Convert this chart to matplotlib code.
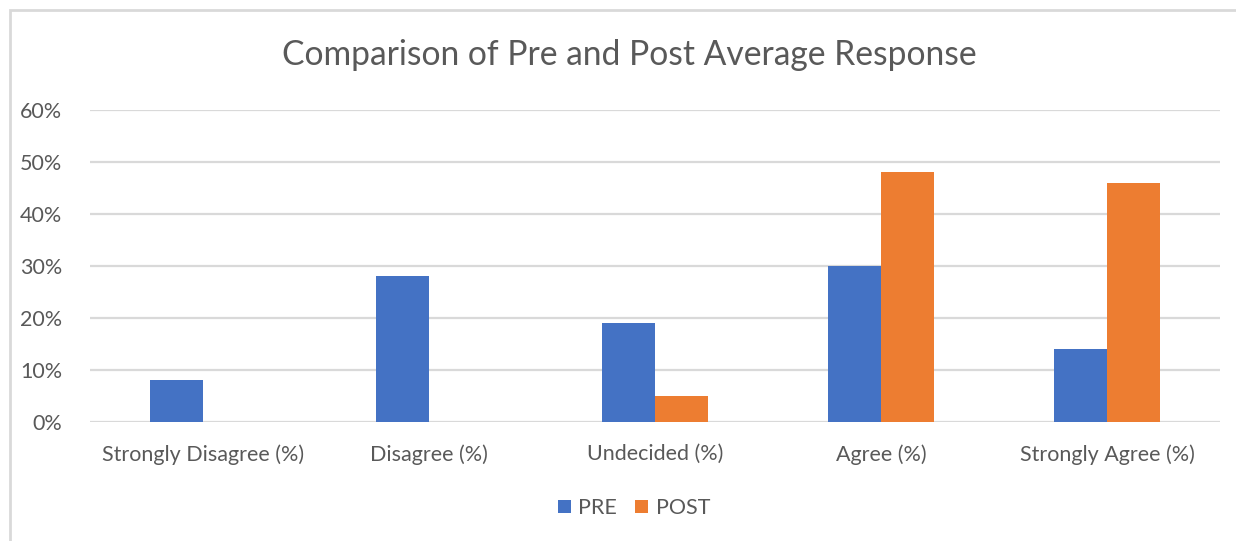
import matplotlib
matplotlib.use("Agg")
import matplotlib.pyplot as plt
from matplotlib.patches import Rectangle
from matplotlib.ticker import FuncFormatter
import numpy as np

categories = ["Strongly Disagree (%)", "Disagree (%)", "Undecided (%)", "Agree (%)", "Strongly Agree (%)"]
pre = [8, 28, 19, 30, 14]
post = [0, 0, 5, 48, 46]
series_names = ["PRE", "POST"]
yticks = [0, 10, 20, 30, 40, 50, 60]

plt.rcParams['font.family'] = ['Lato', 'DejaVu Sans']
txt = '#595959'
grid = '#D9D9D9'

W, H = 1236, 541
fig = plt.figure(figsize=(W/100, H/100), dpi=100)
fig.patch.set_facecolor('white')

# outer chart frame
fig.patches.append(Rectangle((10/W, -0.1), 1.2, 1 - 10/H + 0.1, transform=fig.transFigure,
                             fill=False, edgecolor=grid, linewidth=2, zorder=0))

ax = fig.add_axes([90/W, 1 - 422/H, (1220-90)/W, (422-110)/H])
x = np.arange(len(categories))
bw = 0.235
ax.bar(x - bw/2, pre, bw, color='#4472C4', label=series_names[0], zorder=3)
ax.bar(x + bw/2, post, bw, color='#ED7D31', label=series_names[1], zorder=3)

ax.set_xlim(-0.5, len(categories) - 0.5)
ax.set_ylim(0, 60)
ax.set_yticks(yticks)
ax.yaxis.set_major_formatter(FuncFormatter(lambda v, p: f"{v:.0f}%"))
ax.set_xticks(x)
ax.set_xticklabels(categories)
for s in ax.spines.values():
    s.set_visible(False)
ax.grid(axis='y', color=grid, linewidth=1.6, zorder=0)
ax.tick_params(axis='both', length=0, labelsize=15.5, labelcolor=txt)
ax.tick_params(axis='y', pad=20)
ax.tick_params(axis='x', pad=16)

fig.text(629/W, 1 - 55/H, "Comparison of Pre and Post Average Response", ha='center', va='center',
         fontsize=24.2, color=txt)

leg = fig.legend(loc='center', bbox_to_anchor=(634/W, 1 - 508/H), ncol=2, frameon=False,
                 fontsize=15.5, handlelength=0.6, handleheight=0.6, handletextpad=0.35, columnspacing=0.85)
for t in leg.get_texts():
    t.set_color(txt)

fig.savefig("out.png", dpi=100)
